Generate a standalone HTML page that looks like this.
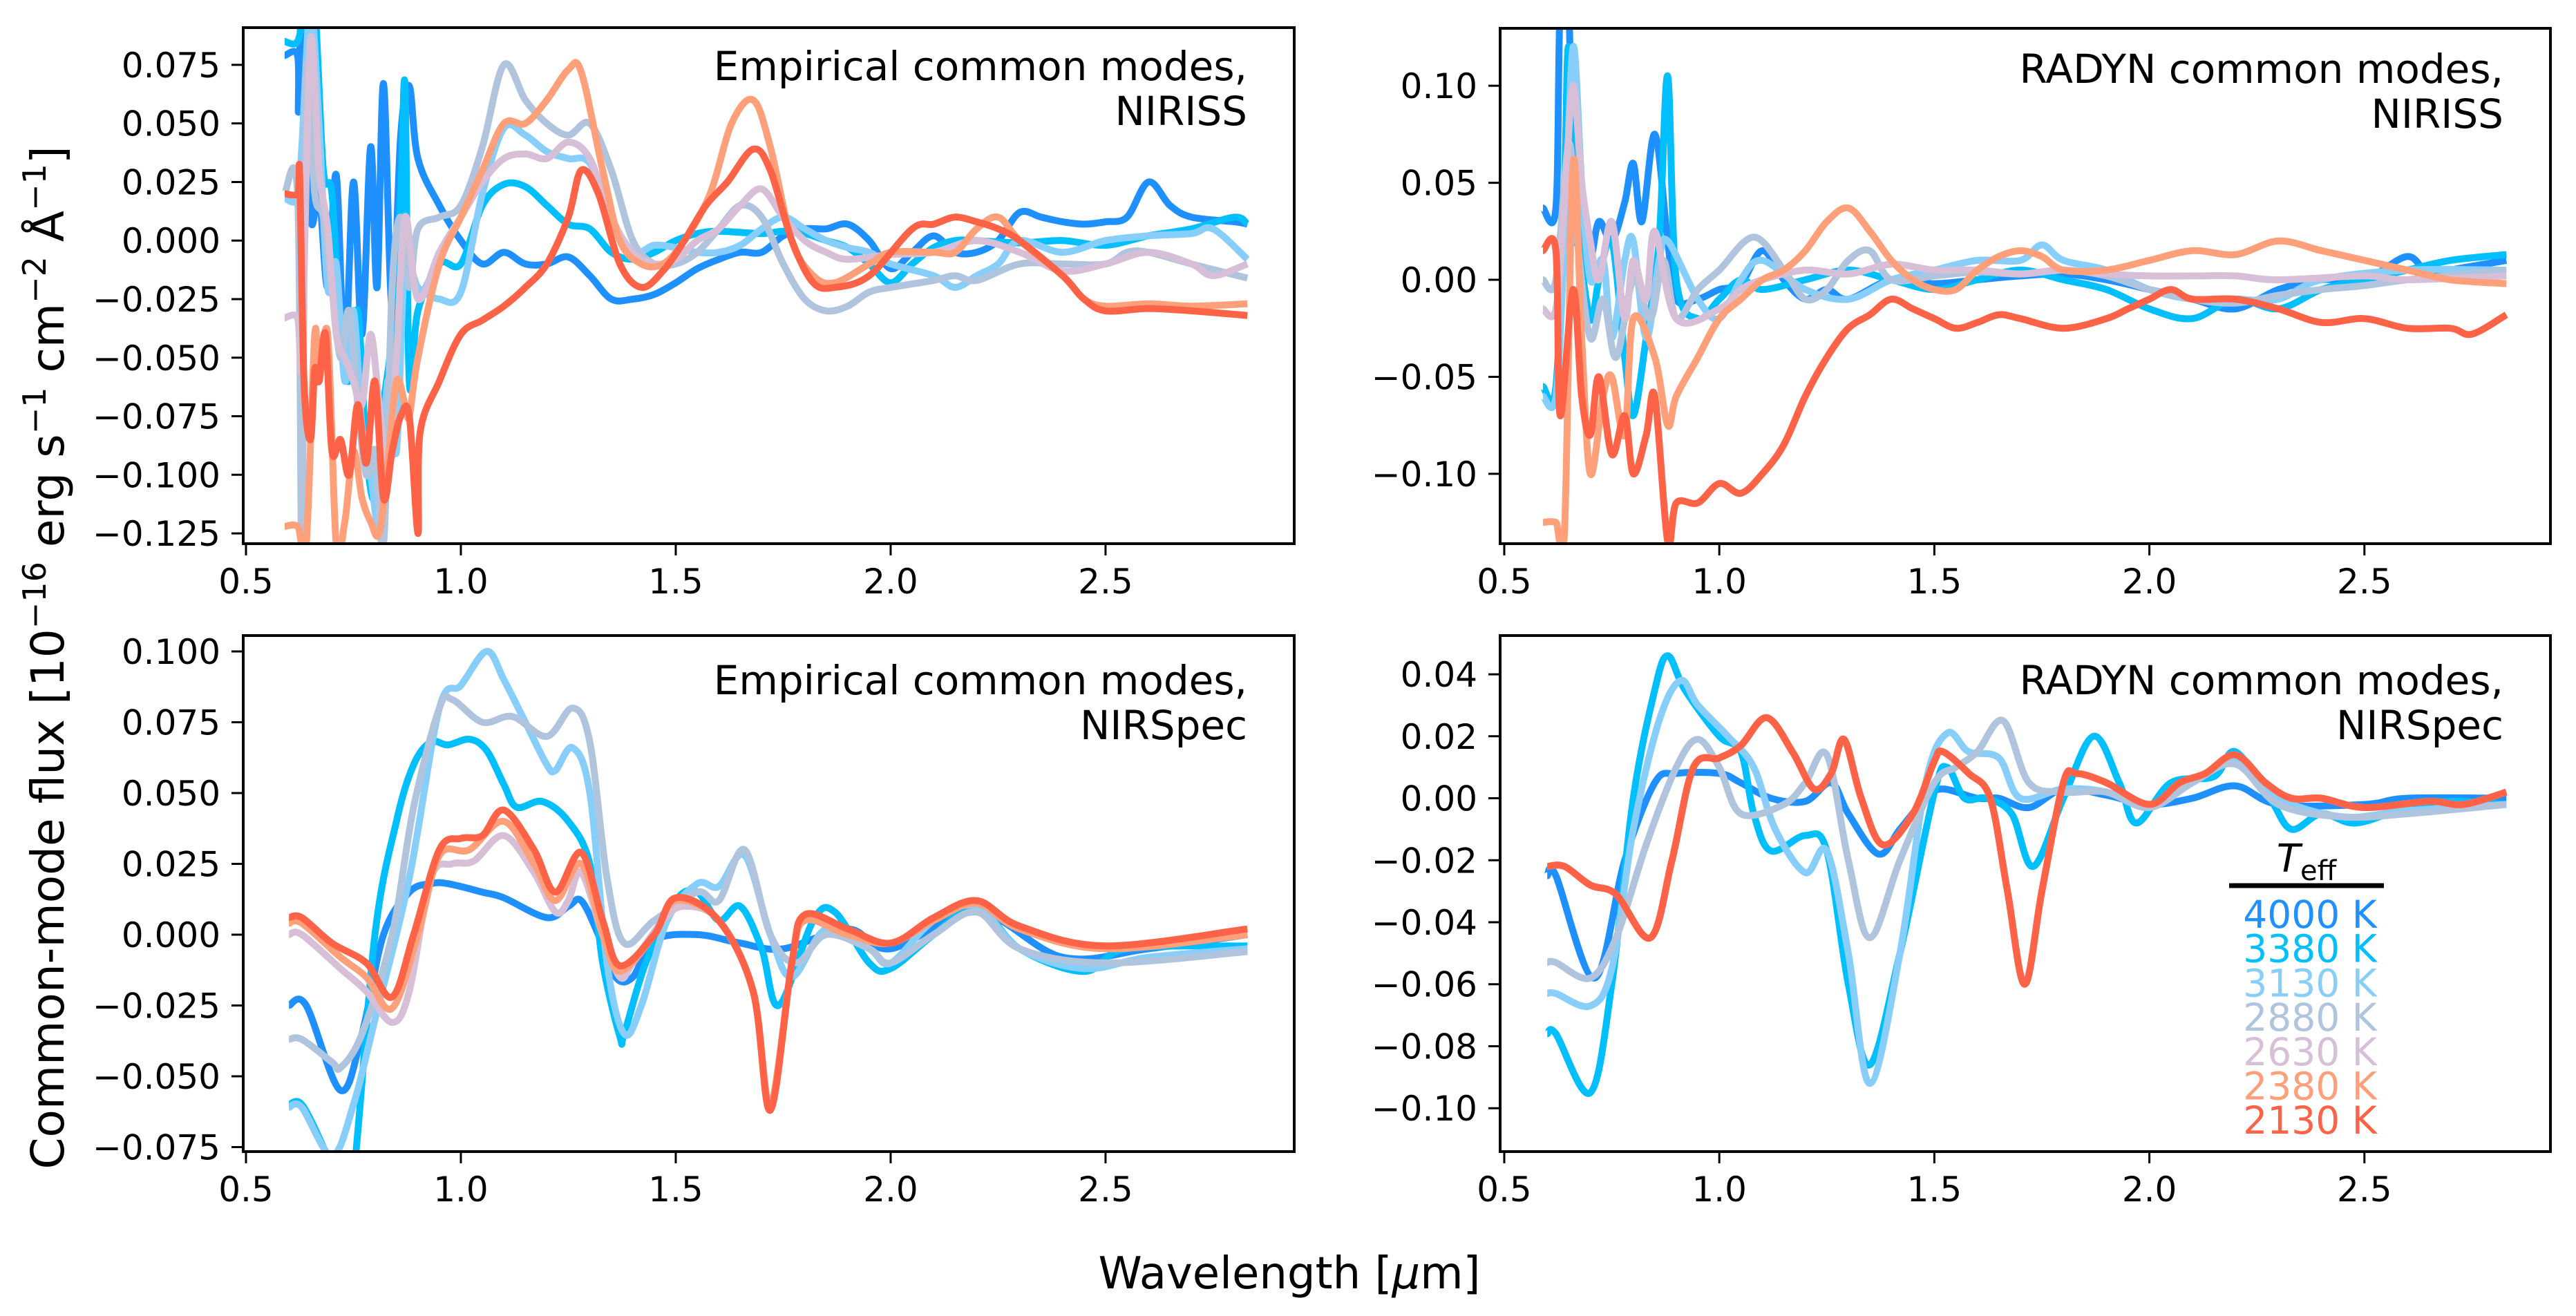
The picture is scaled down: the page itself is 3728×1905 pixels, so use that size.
<!DOCTYPE html>
<html><head><meta charset="utf-8">
<style>
html,body{margin:0;padding:0;background:#fff;}
svg{display:block;}
text{font-family:"DejaVu Sans","Liberation Sans",sans-serif;fill:#000;}
</style></head>
<body>
<svg id="fig" width="3728" height="1905" viewBox="0 0 3728 1905" xmlns="http://www.w3.org/2000/svg">
<text x="0" y="0" font-size="66" text-anchor="middle" transform="translate(92,952) rotate(-90)">Common-mode flux [10<tspan font-size="46" dy="-26">−16</tspan><tspan dy="26"> erg s</tspan><tspan font-size="46" dy="-26">−1</tspan><tspan dy="26"> cm</tspan><tspan font-size="46" dy="-26">−2</tspan><tspan dy="26"> Å</tspan><tspan font-size="46" dy="-26">−1</tspan><tspan dy="26">]</tspan></text>
<text x="1866" y="1865" font-size="64" text-anchor="middle">Wavelength [<tspan font-style="italic">μ</tspan>m]</text>
</svg>
<script>
// ---- data: temperatures ----
const temps = ["4000 K","3380 K","3130 K","2880 K","2630 K","2380 K","2130 K"];
const colors = ["#1e90ff","#00bfff","#87cefa","#b0c4de","#d8bfd8","#ffa07a","#ff6347"];

// ---- Empirical NIRISS ----
const eni4000 = [[0.59,0.079],[0.62,0.079],[0.622,0.055],[0.63,0.095],[0.65,0.01],[0.67,0.02],[0.69,-0.02],[0.71,0.028],[0.73,-0.05],[0.75,0.025],[0.77,-0.04],[0.79,0.04],[0.805,-0.02],[0.82,0.067],[0.84,-0.03],[0.86,0.045],[0.88,0.066],[0.9,0.035],[0.95,0.015],[1.0,0.0],[1.05,-0.01],[1.1,-0.005],[1.15,-0.01],[1.2,-0.01],[1.25,-0.007],[1.3,-0.015],[1.35,-0.025],[1.4,-0.025],[1.45,-0.023],[1.5,-0.018],[1.55,-0.012],[1.6,-0.008],[1.65,-0.005],[1.7,-0.005],[1.75,0.002],[1.8,0.005],[1.85,0.005],[1.9,0.007],[1.95,0.0],[2.0,-0.012],[2.05,-0.005],[2.1,0.002],[2.15,-0.005],[2.2,-0.005],[2.25,0.0],[2.3,0.012],[2.35,0.01],[2.4,0.008],[2.45,0.007],[2.5,0.008],[2.55,0.01],[2.6,0.025],[2.65,0.015],[2.7,0.01],[2.8,0.008],[2.83,0.007]];
const eni3380 = [[0.59,0.085],[0.62,0.085],[0.64,0.1],[0.66,0.1],[0.68,0.03],[0.7,0.02],[0.72,-0.04],[0.74,-0.06],[0.76,-0.03],[0.78,-0.09],[0.8,-0.11],[0.82,-0.07],[0.84,-0.04],[0.86,0.02],[0.87,0.066],[0.88,-0.06],[0.9,-0.03],[0.95,-0.01],[1.0,-0.01],[1.05,0.015],[1.1,0.024],[1.15,0.023],[1.2,0.015],[1.25,0.007],[1.3,0.005],[1.35,-0.005],[1.4,-0.008],[1.45,-0.005],[1.5,0.0],[1.55,0.003],[1.6,0.004],[1.7,0.003],[1.75,0.004],[1.8,0.003],[1.85,0.0],[1.9,-0.003],[1.95,-0.01],[2.0,-0.018],[2.05,-0.01],[2.1,-0.003],[2.15,0.0],[2.2,0.0],[2.3,-0.001],[2.4,0.0],[2.5,-0.002],[2.6,0.002],[2.7,0.005],[2.8,0.01],[2.83,0.007]];
const eni3130 = [[0.59,0.018],[0.62,0.018],[0.63,0.04],[0.65,0.1],[0.67,0.05],[0.69,-0.02],[0.71,-0.01],[0.73,-0.06],[0.75,-0.03],[0.77,-0.08],[0.79,-0.1],[0.81,-0.12],[0.83,-0.06],[0.85,-0.09],[0.87,-0.01],[0.9,-0.02],[0.95,-0.025],[1.0,-0.022],[1.05,0.02],[1.1,0.048],[1.15,0.045],[1.2,0.038],[1.25,0.035],[1.3,0.033],[1.35,0.01],[1.4,-0.005],[1.45,-0.002],[1.5,-0.003],[1.55,-0.005],[1.6,-0.005],[1.65,-0.002],[1.7,0.005],[1.75,0.01],[1.8,0.005],[1.85,0.0],[1.9,-0.003],[1.95,-0.005],[2.0,-0.01],[2.1,-0.015],[2.15,-0.02],[2.2,-0.015],[2.25,-0.01],[2.3,0.0],[2.4,-0.005],[2.5,0.0],[2.6,0.002],[2.7,0.003],[2.75,0.005],[2.83,-0.008]];
const eni2880 = [[0.59,0.02],[0.62,0.02],[0.63,-0.13],[0.64,0.07],[0.66,0.02],[0.68,0.01],[0.7,-0.02],[0.72,-0.05],[0.74,-0.03],[0.76,-0.07],[0.78,-0.1],[0.8,-0.09],[0.82,-0.13],[0.84,-0.02],[0.86,0.01],[0.88,-0.02],[0.9,0.005],[0.95,0.01],[1.0,0.015],[1.05,0.04],[1.1,0.075],[1.15,0.06],[1.2,0.05],[1.25,0.045],[1.3,0.05],[1.35,0.03],[1.4,0.0],[1.45,-0.01],[1.5,-0.01],[1.55,-0.005],[1.6,0.005],[1.65,0.015],[1.7,0.01],[1.75,-0.01],[1.8,-0.025],[1.85,-0.03],[1.9,-0.028],[1.95,-0.022],[2.0,-0.02],[2.1,-0.017],[2.15,-0.015],[2.2,-0.017],[2.3,-0.01],[2.4,-0.01],[2.5,-0.01],[2.55,-0.005],[2.6,-0.005],[2.7,-0.01],[2.83,-0.016]];
const eni2630 = [[0.59,-0.033],[0.62,-0.033],[0.63,-0.05],[0.65,0.085],[0.67,0.03],[0.69,0.005],[0.71,-0.04],[0.73,-0.05],[0.75,-0.06],[0.77,-0.07],[0.79,-0.04],[0.81,-0.07],[0.83,-0.1],[0.85,-0.05],[0.87,0.01],[0.9,-0.025],[0.95,-0.005],[1.0,0.01],[1.05,0.025],[1.1,0.035],[1.15,0.037],[1.2,0.035],[1.25,0.042],[1.3,0.035],[1.35,0.01],[1.4,-0.005],[1.45,-0.01],[1.5,-0.008],[1.55,0.0],[1.6,0.005],[1.65,0.015],[1.7,0.022],[1.75,0.01],[1.8,0.0],[1.85,-0.005],[1.9,-0.008],[2.0,-0.006],[2.1,-0.005],[2.2,0.0],[2.3,-0.005],[2.4,-0.013],[2.5,-0.01],[2.6,-0.005],[2.7,-0.01],[2.75,-0.015],[2.83,-0.01]];
const eni2380 = [[0.59,-0.122],[0.62,-0.122],[0.64,-0.13],[0.66,-0.04],[0.67,-0.06],[0.69,-0.04],[0.71,-0.13],[0.73,-0.12],[0.75,-0.09],[0.77,-0.11],[0.79,-0.12],[0.81,-0.125],[0.83,-0.095],[0.85,-0.06],[0.87,-0.07],[0.88,-0.075],[0.9,-0.05],[0.95,-0.01],[1.0,0.01],[1.05,0.03],[1.1,0.05],[1.15,0.05],[1.2,0.06],[1.25,0.073],[1.28,0.072],[1.33,0.03],[1.37,0.0],[1.42,-0.01],[1.47,-0.01],[1.52,0.0],[1.58,0.02],[1.63,0.05],[1.68,0.06],[1.72,0.04],[1.77,0.0],[1.82,-0.015],[1.87,-0.018],[1.95,-0.01],[2.0,-0.005],[2.1,-0.005],[2.15,-0.005],[2.2,0.005],[2.25,0.01],[2.3,0.0],[2.4,-0.015],[2.45,-0.025],[2.5,-0.028],[2.6,-0.027],[2.7,-0.028],[2.83,-0.027]];
const eni2130 = [[0.59,0.02],[0.62,0.02],[0.625,0.028],[0.635,-0.06],[0.65,-0.085],[0.66,-0.055],[0.67,-0.06],[0.685,-0.04],[0.7,-0.09],[0.72,-0.085],[0.74,-0.1],[0.76,-0.07],[0.78,-0.095],[0.8,-0.06],[0.82,-0.11],[0.84,-0.09],[0.86,-0.075],[0.88,-0.075],[0.9,-0.125],[0.905,-0.082],[0.95,-0.06],[1.0,-0.04],[1.05,-0.034],[1.1,-0.028],[1.15,-0.02],[1.2,-0.01],[1.25,0.01],[1.28,0.03],[1.32,0.02],[1.37,-0.01],[1.42,-0.02],[1.47,-0.013],[1.52,0.0],[1.57,0.015],[1.62,0.025],[1.68,0.039],[1.72,0.03],[1.77,0.0],[1.82,-0.018],[1.87,-0.02],[1.95,-0.015],[2.05,0.005],[2.1,0.007],[2.15,0.01],[2.2,0.008],[2.25,0.005],[2.3,0.0],[2.4,-0.015],[2.45,-0.025],[2.5,-0.03],[2.6,-0.029],[2.7,-0.03],[2.83,-0.032]];

// ---- RADYN NIRISS ----
const rni4000 = [[0.59,0.037],[0.62,0.037],[0.63,0.14],[0.65,0.14],[0.66,0.03],[0.68,0.02],[0.7,0.01],[0.72,0.03],[0.75,0.02],[0.78,0.04],[0.8,0.06],[0.82,0.03],[0.85,0.075],[0.88,0.02],[0.9,-0.01],[0.95,-0.01],[1.0,-0.005],[1.05,-0.002],[1.1,0.015],[1.15,0.0],[1.2,-0.01],[1.25,-0.005],[1.3,-0.01],[1.4,0.0],[1.5,-0.002],[1.6,0.0],[1.7,0.002],[1.8,0.003],[1.9,0.0],[2.0,-0.005],[2.1,-0.01],[2.2,-0.015],[2.3,-0.005],[2.4,0.0],[2.5,0.0],[2.6,0.012],[2.65,0.002],[2.7,0.005],[2.83,0.01]];
const rni3380 = [[0.59,-0.055],[0.62,-0.055],[0.64,0.05],[0.65,0.12],[0.67,0.03],[0.7,-0.02],[0.72,0.0],[0.75,0.02],[0.78,-0.04],[0.8,-0.07],[0.83,-0.03],[0.86,0.02],[0.88,0.105],[0.9,0.0],[0.95,-0.02],[1.0,-0.01],[1.05,0.0],[1.1,-0.005],[1.2,0.0],[1.3,0.005],[1.4,0.0],[1.5,-0.005],[1.6,0.0],[1.7,0.005],[1.8,0.0],[1.9,-0.005],[2.0,-0.015],[2.1,-0.02],[2.2,-0.01],[2.3,-0.015],[2.4,-0.005],[2.5,0.0],[2.6,0.005],[2.7,0.01],[2.83,0.013]];
const rni3130 = [[0.59,-0.06],[0.62,-0.06],[0.64,0.02],[0.66,0.12],[0.68,0.05],[0.7,0.0],[0.73,0.01],[0.75,-0.03],[0.78,0.01],[0.8,0.02],[0.83,-0.03],[0.86,0.01],[0.88,0.02],[0.95,-0.01],[1.0,-0.02],[1.05,0.0],[1.1,0.01],[1.2,-0.005],[1.3,-0.01],[1.4,0.0],[1.5,0.005],[1.6,0.01],[1.7,0.01],[1.75,0.018],[1.8,0.01],[1.9,0.005],[2.0,-0.005],[2.1,-0.01],[2.2,-0.01],[2.3,-0.01],[2.4,0.0],[2.6,0.005],[2.83,0.005]];
const rni2880 = [[0.59,0.0],[0.62,0.0],[0.65,0.07],[0.67,0.02],[0.7,-0.03],[0.73,-0.01],[0.76,-0.04],[0.8,0.0],[0.84,-0.02],[0.87,0.01],[0.9,-0.02],[0.95,-0.005],[1.0,0.005],[1.08,0.022],[1.15,0.005],[1.2,-0.01],[1.25,-0.005],[1.3,0.01],[1.35,0.015],[1.4,0.0],[1.5,0.002],[1.6,0.004],[1.7,0.003],[1.8,0.005],[1.9,0.002],[2.0,-0.005],[2.1,-0.01],[2.2,-0.012],[2.3,-0.008],[2.4,-0.005],[2.5,-0.003],[2.6,0.0],[2.83,0.005]];
const rni2630 = [[0.59,-0.015],[0.62,-0.015],[0.64,0.04],[0.66,0.1],[0.68,0.05],[0.7,0.02],[0.72,0.0],[0.75,0.03],[0.78,-0.02],[0.8,0.01],[0.83,-0.01],[0.85,0.025],[0.9,-0.02],[1.0,-0.015],[1.05,-0.005],[1.1,0.0],[1.2,0.005],[1.3,0.003],[1.4,0.008],[1.5,0.005],[1.6,0.005],[1.7,0.003],[1.8,0.005],[1.9,0.003],[2.0,0.002],[2.1,0.002],[2.2,0.002],[2.3,0.0],[2.5,0.002],[2.6,0.0],[2.83,0.002]];
const rni2380 = [[0.59,-0.125],[0.62,-0.125],[0.64,-0.13],[0.66,0.06],[0.68,-0.03],[0.7,-0.1],[0.73,-0.06],[0.75,-0.05],[0.78,-0.08],[0.8,-0.02],[0.85,-0.04],[0.88,-0.075],[0.9,-0.06],[0.95,-0.04],[1.0,-0.02],[1.05,-0.01],[1.1,0.0],[1.15,0.005],[1.2,0.015],[1.25,0.03],[1.3,0.037],[1.35,0.025],[1.4,0.01],[1.45,0.0],[1.5,-0.005],[1.55,-0.005],[1.6,0.005],[1.65,0.012],[1.7,0.015],[1.75,0.012],[1.8,0.005],[1.9,0.005],[2.0,0.01],[2.1,0.015],[2.2,0.013],[2.3,0.02],[2.4,0.015],[2.5,0.01],[2.6,0.005],[2.7,0.0],[2.83,-0.002]];
const rni2130 = [[0.59,0.015],[0.62,0.015],[0.63,-0.07],[0.66,-0.005],[0.68,-0.06],[0.7,-0.08],[0.72,-0.05],[0.75,-0.09],[0.78,-0.07],[0.8,-0.1],[0.83,-0.08],[0.85,-0.06],[0.88,-0.135],[0.9,-0.115],[0.95,-0.115],[1.0,-0.105],[1.05,-0.11],[1.1,-0.1],[1.15,-0.085],[1.2,-0.06],[1.25,-0.04],[1.3,-0.025],[1.35,-0.018],[1.4,-0.01],[1.45,-0.015],[1.5,-0.02],[1.55,-0.025],[1.6,-0.022],[1.65,-0.018],[1.7,-0.02],[1.8,-0.025],[1.9,-0.02],[1.95,-0.015],[2.0,-0.01],[2.05,-0.005],[2.1,-0.01],[2.2,-0.01],[2.3,-0.015],[2.4,-0.022],[2.5,-0.02],[2.6,-0.025],[2.7,-0.025],[2.75,-0.028],[2.83,-0.018]];

// ---- Empirical NIRSpec ----
const ens4000 = [[0.6,-0.025],[0.64,-0.025],[0.72,-0.055],[0.77,-0.035],[0.82,0.0],[0.88,0.015],[0.93,0.018],[0.97,0.018],[1.05,0.015],[1.1,0.013],[1.2,0.006],[1.25,0.01],[1.28,0.012],[1.32,0.0],[1.36,-0.015],[1.4,-0.015],[1.45,-0.002],[1.55,0.0],[1.65,-0.003],[1.75,-0.005],[1.9,0.002],[2.0,-0.005],[2.2,0.008],[2.4,-0.008],[2.6,-0.005],[2.83,0.0]];
const ens3380 = [[0.6,-0.06],[0.63,-0.06],[0.68,-0.075],[0.72,-0.09],[0.75,-0.085],[0.8,0.0],[0.85,0.04],[0.89,0.06],[0.93,0.068],[0.97,0.067],[1.02,0.069],[1.06,0.065],[1.1,0.053],[1.13,0.045],[1.19,0.047],[1.25,0.04],[1.3,0.025],[1.33,-0.01],[1.37,-0.036],[1.38,-0.035],[1.43,-0.01],[1.5,0.012],[1.55,0.015],[1.6,0.005],[1.65,0.01],[1.7,-0.005],[1.74,-0.025],[1.82,0.005],[1.87,0.008],[1.95,-0.01],[2.0,-0.012],[2.1,0.0],[2.2,0.01],[2.3,-0.005],[2.45,-0.013],[2.55,-0.005],[2.83,-0.004]];
const ens3130 = [[0.6,-0.061],[0.63,-0.061],[0.7,-0.078],[0.75,-0.06],[0.8,-0.03],[0.88,0.02],[0.95,0.08],[1.0,0.088],[1.06,0.1],[1.1,0.09],[1.15,0.075],[1.2,0.06],[1.22,0.058],[1.26,0.066],[1.3,0.05],[1.34,-0.01],[1.38,-0.035],[1.42,-0.025],[1.48,0.005],[1.55,0.018],[1.6,0.017],[1.66,0.028],[1.72,0.0],[1.77,-0.015],[1.85,0.002],[1.95,-0.005],[2.0,-0.01],[2.1,0.005],[2.2,0.01],[2.3,-0.005],[2.45,-0.012],[2.6,-0.008],[2.83,-0.005]];
const ens2880 = [[0.6,-0.037],[0.63,-0.037],[0.7,-0.045],[0.72,-0.047],[0.77,-0.035],[0.84,0.0],[0.89,0.045],[0.95,0.08],[0.98,0.083],[1.05,0.075],[1.12,0.077],[1.2,0.07],[1.26,0.08],[1.3,0.068],[1.34,0.02],[1.38,-0.003],[1.45,0.005],[1.55,0.015],[1.6,0.012],[1.66,0.03],[1.72,0.0],[1.78,-0.01],[1.85,0.0],[1.95,-0.005],[2.0,-0.01],[2.1,0.0],[2.2,0.008],[2.3,-0.005],[2.5,-0.01],[2.83,-0.006]];
const ens2630 = [[0.6,0.0],[0.63,0.0],[0.72,-0.012],[0.78,-0.02],[0.84,-0.031],[0.88,-0.02],[0.93,0.02],[0.98,0.025],[1.03,0.026],[1.1,0.035],[1.17,0.022],[1.22,0.008],[1.25,0.012],[1.28,0.022],[1.33,0.0],[1.37,-0.015],[1.4,-0.01],[1.47,0.005],[1.52,0.01],[1.6,0.005],[1.68,-0.02],[1.72,-0.06],[1.77,-0.01],[1.8,0.005],[1.9,0.0],[2.0,-0.003],[2.1,0.005],[2.2,0.011],[2.3,0.002],[2.5,-0.005],[2.83,0.0]];
const ens2380 = [[0.6,0.004],[0.63,0.004],[0.72,-0.008],[0.78,-0.015],[0.84,-0.026],[0.9,0.0],[0.95,0.028],[1.02,0.03],[1.1,0.04],[1.17,0.025],[1.22,0.012],[1.28,0.025],[1.33,0.0],[1.37,-0.013],[1.45,0.0],[1.5,0.012],[1.6,0.005],[1.68,-0.02],[1.72,-0.06],[1.77,-0.01],[1.8,0.005],[1.9,0.0],[2.0,-0.003],[2.1,0.005],[2.2,0.011],[2.3,0.002],[2.5,-0.005],[2.83,0.0]];
const ens2130 = [[0.6,0.006],[0.63,0.006],[0.7,-0.003],[0.78,-0.01],[0.84,-0.022],[0.89,0.0],[0.95,0.03],[1.0,0.034],[1.05,0.035],[1.1,0.044],[1.17,0.03],[1.22,0.015],[1.28,0.029],[1.33,0.005],[1.37,-0.011],[1.45,0.0],[1.5,0.013],[1.6,0.005],[1.68,-0.02],[1.72,-0.062],[1.77,-0.01],[1.8,0.007],[1.9,0.002],[2.0,-0.003],[2.1,0.006],[2.2,0.012],[2.3,0.003],[2.5,-0.004],[2.83,0.002]];

// ---- RADYN NIRSpec ----
const rns4000 = [[0.6,-0.025],[0.62,-0.025],[0.71,-0.058],[0.78,-0.02],[0.85,0.005],[0.9,0.008],[1.0,0.008],[1.05,0.005],[1.12,0.0],[1.2,-0.001],[1.26,0.005],[1.3,-0.005],[1.37,-0.018],[1.42,-0.01],[1.48,0.0],[1.52,0.003],[1.6,0.0],[1.65,0.0],[1.72,-0.003],[1.8,0.003],[1.9,0.001],[2.0,-0.002],[2.1,0.0],[2.2,0.004],[2.3,-0.002],[2.5,-0.002],[2.6,0.0],[2.83,0.0]];
const rns3380 = [[0.6,-0.076],[0.62,-0.076],[0.7,-0.095],[0.75,-0.06],[0.8,0.0],[0.85,0.035],[0.88,0.046],[0.92,0.035],[1.0,0.02],[1.05,0.015],[1.08,-0.005],[1.12,-0.017],[1.2,-0.012],[1.25,-0.017],[1.3,-0.06],[1.35,-0.086],[1.42,-0.05],[1.5,0.002],[1.53,0.01],[1.57,0.0],[1.62,0.0],[1.68,-0.005],[1.73,-0.022],[1.8,0.0],[1.87,0.02],[1.93,0.005],[1.97,-0.008],[2.05,0.005],[2.15,0.007],[2.2,0.015],[2.28,0.0],[2.33,-0.01],[2.4,-0.005],[2.48,-0.008],[2.6,-0.003],[2.7,-0.001],[2.83,-0.002]];
const rns3130 = [[0.6,-0.063],[0.62,-0.063],[0.7,-0.067],[0.75,-0.055],[0.8,-0.01],[0.86,0.025],[0.91,0.038],[0.95,0.03],[1.02,0.02],[1.08,0.01],[1.13,-0.01],[1.2,-0.024],[1.25,-0.017],[1.3,-0.05],[1.35,-0.092],[1.42,-0.05],[1.48,0.005],[1.53,0.021],[1.58,0.015],[1.65,0.013],[1.7,0.0],[1.8,0.003],[1.9,0.002],[2.0,-0.003],[2.1,0.005],[2.2,0.012],[2.3,0.0],[2.45,-0.006],[2.6,-0.004],[2.83,-0.002]];
const rns2880 = [[0.6,-0.053],[0.62,-0.053],[0.7,-0.058],[0.76,-0.045],[0.83,-0.015],[0.9,0.01],[0.95,0.019],[1.0,0.01],[1.05,-0.005],[1.15,-0.002],[1.2,0.005],[1.25,0.014],[1.3,-0.02],[1.35,-0.045],[1.42,-0.02],[1.5,0.005],[1.55,0.01],[1.6,0.015],[1.66,0.025],[1.72,0.005],[1.8,0.002],[1.9,0.002],[2.0,-0.003],[2.1,0.005],[2.2,0.011],[2.3,-0.002],[2.45,-0.006],[2.6,-0.005],[2.83,-0.002]];
const rns2130 = [[0.6,-0.022],[0.64,-0.022],[0.7,-0.028],[0.76,-0.031],[0.84,-0.045],[0.89,-0.02],[0.94,0.01],[1.0,0.013],[1.05,0.017],[1.11,0.026],[1.17,0.015],[1.22,0.003],[1.26,0.008],[1.29,0.019],[1.33,0.0],[1.38,-0.015],[1.45,-0.005],[1.5,0.012],[1.52,0.015],[1.58,0.008],[1.63,0.0],[1.67,-0.03],[1.71,-0.06],[1.75,-0.03],[1.8,0.005],[1.83,0.008],[1.9,0.005],[2.0,-0.002],[2.07,0.005],[2.13,0.008],[2.2,0.014],[2.27,0.005],[2.33,0.0],[2.4,0.0],[2.5,-0.003],[2.65,-0.001],[2.73,-0.002],[2.83,0.002]];
const rns2630 = rns2130;
const rns2380 = rns2130;

// ---- ticks ----
const xTicks = [0.5,1.0,1.5,2.0,2.5];
const xTickLabels = ["0.5","1.0","1.5","2.0","2.5"];
const yTicksEni = [-0.125,-0.1,-0.075,-0.05,-0.025,0,0.025,0.05,0.075];
const yTicksRni = [-0.1,-0.05,0,0.05,0.1];
const yTicksEns = [-0.075,-0.05,-0.025,0,0.025,0.05,0.075,0.1];
const yTicksRns = [-0.1,-0.08,-0.06,-0.04,-0.02,0,0.02,0.04];
const titles = [["Empirical common modes,","NIRISS"],["RADYN common modes,","NIRISS"],["Empirical common modes,","NIRSpec"],["RADYN common modes,","NIRSpec"]];

const NS = "http://www.w3.org/2000/svg";
const fig = document.getElementById('fig');
function mk(tag, attrs, parent){const e=document.createElementNS(NS,tag);for(const k in attrs)e.setAttribute(k,attrs[k]);(parent||fig).appendChild(e);return e;}

const panels = [
 {id:'empirical-niriss', L:352,R:1873,T:40,B:787, x0:0.4936,x1:2.939, y0:-0.1294,y1:0.0909, yt:yTicksEni, dec:3, series:[eni4000,eni3380,eni3130,eni2880,eni2630,eni2380,eni2130], title:titles[0], ty:[96,161]},
 {id:'radyn-niriss', L:2171,R:3691,T:41,B:787, x0:0.4904,x1:2.9325, y0:-0.136,y1:0.1296, yt:yTicksRni, dec:2, series:[rni4000,rni3380,rni3130,rni2880,rni2630,rni2380,rni2130], title:titles[1], ty:[100,165]},
 {id:'empirical-nirspec', L:352,R:1873,T:920,B:1667, x0:0.4936,x1:2.939, y0:-0.0766,y1:0.1056, yt:yTicksEns, dec:3, series:[ens4000,ens3380,ens3130,ens2880,ens2630,ens2380,ens2130], title:titles[2], ty:[985,1050]},
 {id:'radyn-nirspec', L:2171,R:3691,T:920,B:1667, x0:0.4904,x1:2.9325, y0:-0.114,y1:0.0525, yt:yTicksRns, dec:2, series:[rns4000,rns3380,rns3130,rns2880,rns2630,rns2380,rns2130], title:titles[3], ty:[985,1050]}
];

function pathFrom(pts){
  if(pts.length<2)return '';
  let d='M'+pts[0][0].toFixed(1)+','+pts[0][1].toFixed(1);
  for(let i=0;i<pts.length-1;i++){
    const p0=pts[Math.max(0,i-1)],p1=pts[i],p2=pts[i+1],p3=pts[Math.min(pts.length-1,i+2)];
    const t=0.5/3;
    const c1x=p1[0]+(p2[0]-p0[0])*t, c1y=p1[1]+(p2[1]-p0[1])*t;
    const c2x=p2[0]-(p3[0]-p1[0])*t, c2y=p2[1]-(p3[1]-p1[1])*t;
    d+='C'+c1x.toFixed(1)+','+c1y.toFixed(1)+' '+c2x.toFixed(1)+','+c2y.toFixed(1)+' '+p2[0].toFixed(1)+','+p2[1].toFixed(1);
  }
  return d;
}
function fmt(v,dec){const s=Math.abs(v).toFixed(dec);return (v< -1e-9?'−':'')+s;}

panels.forEach((p,pi)=>{
  const sx=v=>p.L+(v-p.x0)/(p.x1-p.x0)*(p.R-p.L);
  const sy=v=>p.B-(v-p.y0)/(p.y1-p.y0)*(p.B-p.T);
  const g=mk('g',{});
  
  
  const cp=mk('clipPath',{id:'clip'+pi},g);
  mk('rect',{x:p.L,y:p.T,width:p.R-p.L,height:p.B-p.T},cp);
  const lines=mk('g',{'clip-path':'url(#clip'+pi+')'},g);
  
  
  p.series.forEach((s,si)=>{
    const pts=s.map(q=>[sx(q[0]),sy(q[1])]);
    const path=mk('path',{d:pathFrom(pts),fill:'none',stroke:colors[si],'stroke-width':10,'stroke-linejoin':'round','stroke-linecap':'butt'},lines);
    
    
  });
  const frame=mk('rect',{x:p.L,y:p.T,width:p.R-p.L,height:p.B-p.T,fill:'none',stroke:'#000','stroke-width':4},g);
  
  
  xTicks.forEach((t,i)=>{
    const x=sx(t);
    const tk=mk('line',{x1:x,x2:x,y1:p.B,y2:p.B+17,stroke:'#000','stroke-width':3},g);
    
    
    const tl=mk('text',{x:x,y:p.B+72,'font-size':50,'text-anchor':'middle'},g);
    tl.textContent=xTickLabels[i];
    
    
  });
  p.yt.forEach(t=>{
    const y=sy(t);
    const tk=mk('line',{x1:p.L-17,x2:p.L,y1:y,y2:y,stroke:'#000','stroke-width':3},g);
    
    
    const tl=mk('text',{x:p.L-33,y:y+18,'font-size':50,'text-anchor':'end'},g);
    tl.textContent=fmt(t,p.dec);
    
    
  });
  p.title.forEach((line,li)=>{
    const tt=mk('text',{x:p.R-68,y:p.ty[li]+20,'font-size':58,'text-anchor':'end'},g);
    tt.textContent=line;
    
    
  });
});

// legend in RADYN NIRSpec panel
const lg=mk('g',{});


const lt=mk('text',{x:3338,y:1262,'font-size':56,'text-anchor':'middle'},lg);
lt.innerHTML='<tspan font-style="italic">T</tspan><tspan font-size="40" dy="12">eff</tspan>';


const ll=mk('line',{x1:3226,x2:3450,y1:1282,y2:1282,stroke:'#000','stroke-width':7},lg);


temps.forEach((t,i)=>{
  const e=mk('text',{x:3343,y:1343+i*49.7,'font-size':55,'text-anchor':'middle',fill:colors[i]},lg);
  e.setAttribute('style','fill:'+colors[i]);
  e.textContent=t;
  
  
});
</script>
</body></html>
